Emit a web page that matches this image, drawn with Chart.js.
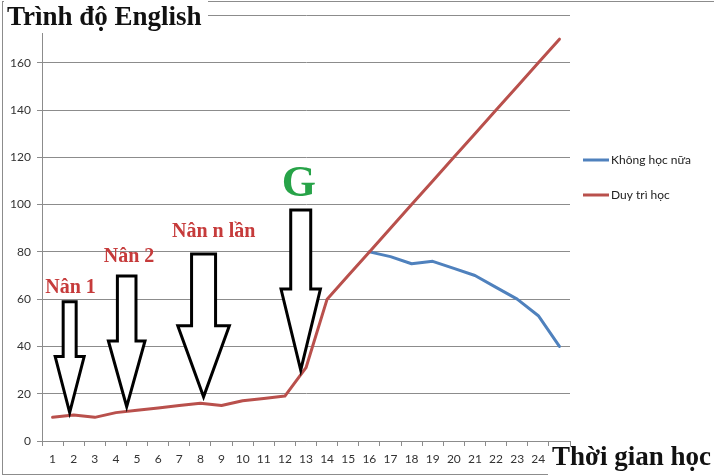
<!DOCTYPE html>
<html>
<head>
<meta charset="utf-8">
<script src="https://cdn.jsdelivr.net/npm/chart.js@4/dist/chart.umd.min.js"></script>
<style>
  html, body { margin: 0; padding: 0; background: #fff; }
  #wrap { width: 714px; height: 476px; position: relative; }
</style>
</head>
<body>
<div id="wrap"><canvas id="c"></canvas></div>
<script>
// Study periods on the x axis
const periods = ['1','2','3','4','5','6','7','8','9','10','11','12','13',
                 '14','15','16','17','18','19','20','21','22','23','24','25'];

// English level when studying stops after period 16
const stopStudying = [null, null, null, null, null, null, null, null, null, null,
                      null, null, null, null, null, 80, 78, 75, 76, 73, 70, 65, 60, 53, 40];

// English level when studying continues
const keepStudying = [10, 11, 10, 12, 13, 14, 15, 16, 15, 17, 18, 19, 31,
                      60, 70, 80, 90, 100, 110, 120, 130, 140, 150, 160, 170];

const seriesNames = ['Không học nữa', 'Duy trì học'];
const seriesColors = ['#4F81BD', '#B9504C'];

// Plateau markers: arrow anchored on the category axis (index) and value axis
const plateauArrows = [
  { x: 0.81,  top: 58.9, headTop: 35.7, tip: 12.0, shaft: 6.5,  head: 14.5 },
  { x: 3.51,  top: 69.8, headTop: 42.3, tip: 14.5, shaft: 9.3,  head: 18.3 },
  { x: 7.15,  top: 79.1, headTop: 48.8, tip: 18.7, shaft: 12,   head: 25.8 },
  { x: 11.75, top: 97.7, headTop: 64.3, tip: 30.0, shaft: 10,   head: 19.7 }
];
const plateauLabels = [
  { text: 'Nân 1',     x: 0.85,  y: 62.8,  size: 20, color: '#C63B3B' },
  { text: 'Nân 2',     x: 3.62,  y: 75.8,  size: 20, color: '#C63B3B' },
  { text: 'Nân n lần', x: 7.63,  y: 86.4,  size: 20, color: '#C63B3B' },
  { text: 'G',         x: 11.66, y: 103.6, size: 44, color: '#27A348' }
];

const GRID = '#8C8C8C';
const TICK_FONT = { family: 'Lato, "Open Sans", sans-serif', size: 12 };
const SERIF = '"Liberation Serif", "DejaVu Serif", serif';

const decorations = {
  id: 'decorations',
  beforeDraw(chart) {
    const ctx = chart.ctx;
    ctx.save();
    ctx.strokeStyle = GRID;
    ctx.lineWidth = 1;
    ctx.strokeRect(2.5, 1.5, 716, 473);
    ctx.restore();
  },
  afterDatasetsDraw(chart) {
    const ctx = chart.ctx;
    const xs = chart.scales.x, ys = chart.scales.y;
    ctx.save();
    ctx.lineWidth = 3;
    ctx.lineJoin = 'miter';
    ctx.strokeStyle = '#000';
    ctx.fillStyle = '#fff';
    plateauArrows.forEach(a => {
      const cx = xs.getPixelForValue(a.x);
      const top = ys.getPixelForValue(a.top);
      const ht = ys.getPixelForValue(a.headTop);
      const tip = ys.getPixelForValue(a.tip);
      ctx.beginPath();
      ctx.moveTo(cx - a.shaft, top);
      ctx.lineTo(cx + a.shaft, top);
      ctx.lineTo(cx + a.shaft, ht);
      ctx.lineTo(cx + a.head, ht);
      ctx.lineTo(cx, tip);
      ctx.lineTo(cx - a.head, ht);
      ctx.lineTo(cx - a.shaft, ht);
      ctx.closePath();
      ctx.fill();
      ctx.stroke();
    });
    ctx.textAlign = 'center';
    ctx.textBaseline = 'alphabetic';
    plateauLabels.forEach(l => {
      ctx.font = 'bold ' + l.size + 'px ' + SERIF;
      ctx.fillStyle = l.color;
      ctx.fillText(l.text, xs.getPixelForValue(l.x), ys.getPixelForValue(l.y));
    });
    ctx.restore();
  },
  afterDraw(chart) {
    const ctx = chart.ctx;
    ctx.save();
    // axis title boxes
    ctx.fillStyle = '#fff';
    ctx.fillRect(4, 0, 204, 33);
    ctx.fillRect(548, 447, 166, 29);
    ctx.fillStyle = '#111';
    ctx.font = 'bold 27px ' + SERIF;
    ctx.textAlign = 'left';
    ctx.textBaseline = 'alphabetic';
    ctx.fillText('Trình độ English', 7, 25);
    ctx.fillText('Thời gian học', 552, 465);
    // legend
    ctx.font = '12px Lato, "Open Sans", sans-serif';
    ctx.textBaseline = 'middle';
    chart.data.datasets.forEach((ds, i) => {
      const y = 160 + i * 35;
      ctx.strokeStyle = ds.borderColor;
      ctx.lineWidth = 3;
      ctx.beginPath();
      ctx.moveTo(583, y);
      ctx.lineTo(609, y);
      ctx.stroke();
      ctx.fillStyle = '#222';
      ctx.fillText(ds.label, 611, y);
    });
    ctx.restore();
  }
};

new Chart(document.getElementById('c'), {
  type: 'line',
  data: {
    labels: periods,
    datasets: [
      { label: seriesNames[0], data: stopStudying, borderColor: seriesColors[0], order: 1 },
      { label: seriesNames[1], data: keepStudying, borderColor: seriesColors[1], order: 0 }
    ]
  },
  options: {
    responsive: true,
    maintainAspectRatio: false,
    animation: false,
    devicePixelRatio: 1,
    layout: { padding: { top: 15.5, right: 144, bottom: 0, left: 0 } },
    elements: {
      line: { borderWidth: 3, tension: 0, borderJoinStyle: 'round', borderCapStyle: 'round', fill: false },
      point: { radius: 0, hoverRadius: 0 }
    },
    spanGaps: false,
    plugins: { legend: { display: false }, tooltip: { enabled: false } },
    scales: {
      x: {
        type: 'category',
        offset: true,
        grid: { offset: true, drawOnChartArea: false, drawTicks: true, tickLength: 5, color: GRID },
        border: { display: true, color: GRID },
        ticks: { autoSkip: false, maxRotation: 0, padding: 6, color: '#333', font: TICK_FONT },
        afterFit(s) { s.height = 35; }
      },
      y: {
        min: 0,
        max: 180,
        grid: { color: GRID, tickLength: 5 },
        border: { display: true, color: GRID },
        ticks: { stepSize: 20, padding: 6, color: '#333', font: TICK_FONT },
        afterFit(s) { s.width = 42; }
      }
    }
  },
  plugins: [decorations]
});
</script>
</body>
</html>
